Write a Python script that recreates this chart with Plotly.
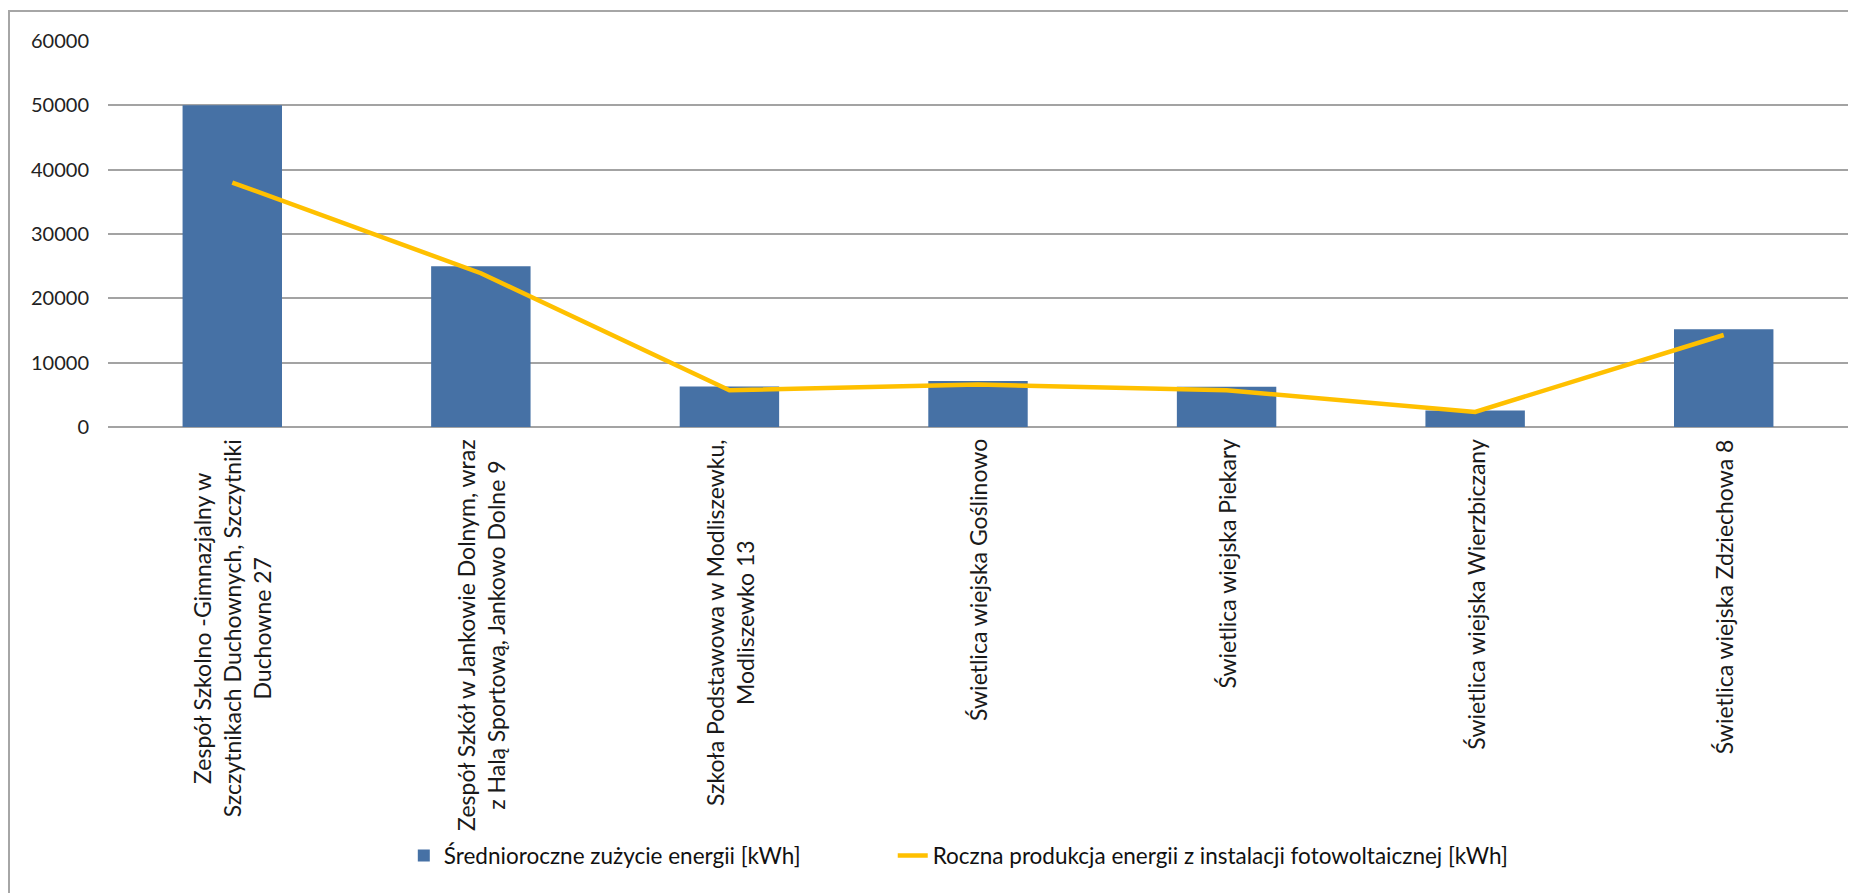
import plotly.graph_objects as go

categories = [
    "Zespół Szkolno -Gimnazjalny w<br>Szczytnikach Duchownych, Szczytniki<br>Duchowne 27",
    "Zespół Szkół w Jankowie Dolnym, wraz<br>z Halą Sportową, Jankowo Dolne 9",
    "Szkoła Podstawowa w Modliszewku,<br>Modliszewko 13",
    "Świetlica wiejska Goślinowo",
    "Świetlica wiejska Piekary",
    "Świetlica wiejska Wierzbiczany",
    "Świetlica wiejska Zdziechowa 8",
]
consumption = [50000, 25000, 6300, 7150, 6250, 2550, 15200]
production = [38000, 23900, 5700, 6600, 5700, 2350, 14300]

bar_name = "Średnioroczne zużycie energii [kWh]"
line_name = "Roczna produkcja energii z instalacji fotowoltaicznej [kWh]"

FONT = "Lato, Open Sans, sans-serif"
GRID = "#a3a3a3"

fig = go.Figure()
fig.add_trace(go.Bar(x=categories, y=consumption, name=bar_name, legend="legend",
                     marker={"color": "#4671a5", "line": {"width": 0}}, width=0.4))
fig.add_trace(go.Scatter(x=categories, y=production, name=line_name, mode="lines", legend="legend2",
                         line={"color": "#ffc000", "width": 4.5}))

# category labels, rotated and centred like the original
for cat in categories:
    fig.add_annotation(x=cat, xref="x", y=-0.026, yref="paper", text=cat,
                       textangle=-90, showarrow=False, xanchor="center", yanchor="top",
                       align="center", font={"family": FONT, "size": 23, "color": "#1a1a1a"})

# outer chart frame (only top and left edges fall inside the picture)
fig.add_shape(type="rect", xref="paper", yref="paper", x0=-0.0569, x1=1.01, y0=-1.3, y1=1.0777,
              line={"color": "#a6a6a6", "width": 2}, layer="below")

legend_font = {"family": FONT, "size": 22.5, "color": "#111"}
fig.update_layout(
    width=1848, height=885,
    margin={"l": 100, "r": 8, "t": 33, "b": 466},
    plot_bgcolor="white", paper_bgcolor="white",
    font={"family": FONT, "size": 20, "color": "#222"},
    showlegend=True,
    legend={"orientation": "h", "x": 0.170, "xanchor": "left", "y": -1.111, "yanchor": "middle",
            "font": legend_font},
    legend2={"orientation": "h", "x": 0.451, "xanchor": "left", "y": -1.111, "yanchor": "middle",
             "font": legend_font},
)
fig.update_xaxes(showticklabels=False, showgrid=False, showline=False, ticks="",
                 range=[-0.5, len(categories) - 0.5])
fig.update_yaxes(range=[0, 60000], dtick=10000, showgrid=True, gridcolor=GRID, gridwidth=2,
                 zeroline=True, zerolinecolor=GRID, zerolinewidth=2, tickformat="d",
                 ticklabelstandoff=18, showline=False, ticks="")

fig.write_html("out.html")
